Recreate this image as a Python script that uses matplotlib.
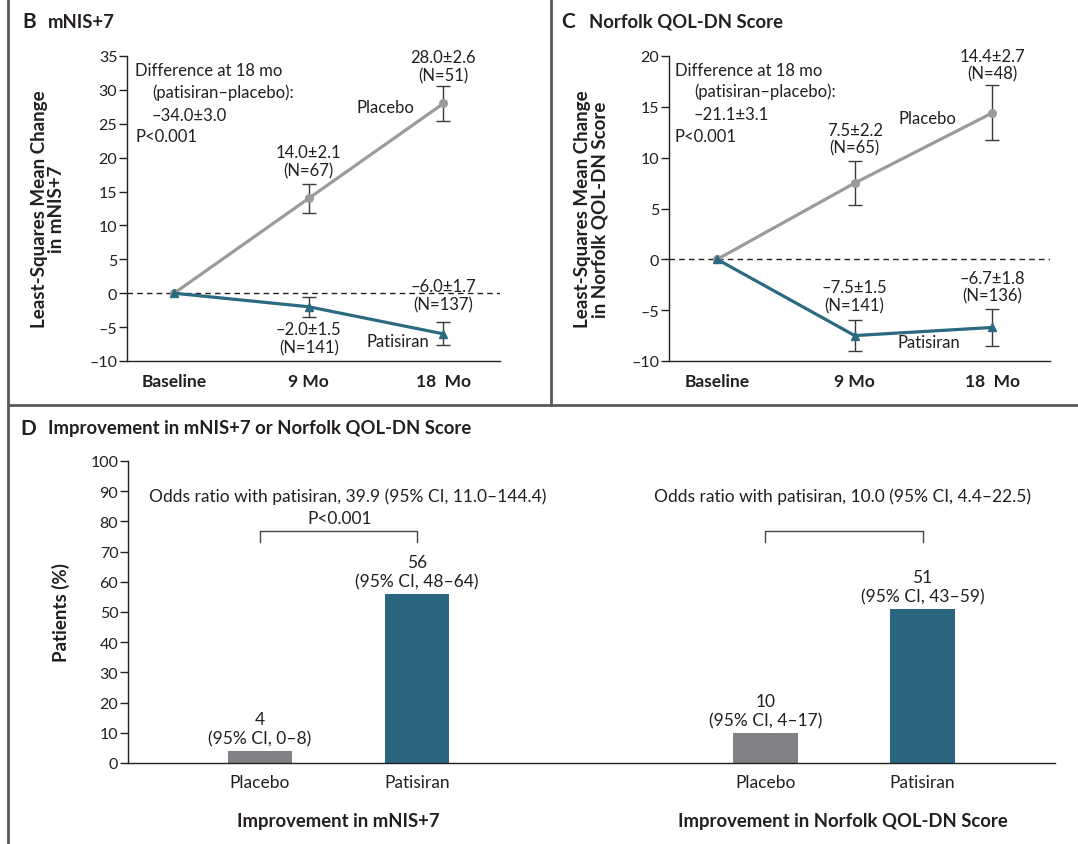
import numpy as np
import matplotlib.pyplot as plt
from matplotlib.lines import Line2D

plt.rcParams['font.family'] = ['Lato', 'DejaVu Sans']
plt.rcParams['font.size'] = 12

# Time points shared by panels B and C
timepoints = ['Baseline', '9 Mo', '18  Mo']

# Panel B: mNIS+7 least-squares mean change
mnis_placebo = [0.0, 14.0, 28.0]
mnis_placebo_se = [0.0, 2.1, 2.6]
mnis_placebo_n = [None, 67, 51]
mnis_patisiran = [0.0, -2.0, -6.0]
mnis_patisiran_se = [0.0, 1.5, 1.7]
mnis_patisiran_n = [None, 141, 137]

# Panel C: Norfolk QOL-DN least-squares mean change
qol_placebo = [0.0, 7.5, 14.4]
qol_placebo_se = [0.0, 2.2, 2.7]
qol_placebo_n = [None, 65, 48]
qol_patisiran = [0.0, -7.5, -6.7]
qol_patisiran_se = [0.0, 1.5, 1.8]
qol_patisiran_n = [None, 141, 136]

# Panel D: percentage of patients with improvement
groups = ['Placebo', 'Patisiran']
improve_mnis = [4, 56]
improve_mnis_ci = ['0–8', '48–64']
improve_qol = [10, 51]
improve_qol_ci = ['4–17', '43–59']

GRAY = '#9b9b9b'
TEAL = '#2b6a80'
BAR_GRAY = '#808184'
BAR_TEAL = '#2a6680'
TXT = '#231f20'
ERR = '#3a3a3a'

W, H = 1078, 845
fig = plt.figure(figsize=(W / 100, H / 100), dpi=100)


def px_axes(left, top, right, bottom):
    return fig.add_axes([left / W, 1 - bottom / H, (right - left) / W, (bottom - top) / H])


def fmt(v):
    return f'{v:.1f}'.replace('-', '–')


def style_axes(ax):
    for s in ['top', 'right']:
        ax.spines[s].set_visible(False)
    for s in ['left', 'bottom']:
        ax.spines[s].set_linewidth(1.0)
        ax.spines[s].set_color(TXT)
    ax.tick_params(axis='y', direction='out', length=6, width=1.0, pad=1,
                   colors=TXT, labelsize=11.5)
    ax.set_yticklabels([f'{int(v)}'.replace('-', '–') for v in ax.get_yticks()])


def line_panel(ax, ylim, yticks, plc, plc_se, pat, pat_se, ylabel, label_x):
    x = np.arange(len(timepoints))
    ax.set_xlim(-0.35, 2.42)
    ax.set_ylim(*ylim)
    ax.set_yticks(yticks)
    ax.axhline(0, color=TXT, lw=1.0, ls=(0, (4, 3)), zorder=1)
    ax.plot(x, plc, color=GRAY, lw=2.3, marker='o', ms=5.5, zorder=3)
    ax.errorbar(x[1:], plc[1:], yerr=plc_se[1:], fmt='none', ecolor=ERR,
                elinewidth=1.0, capsize=5, capthick=1.0, zorder=2)
    ax.plot(x, pat, color=TEAL, lw=2.3, marker='^', ms=6, zorder=4)
    ax.errorbar(x[1:], pat[1:], yerr=pat_se[1:], fmt='none', ecolor=ERR,
                elinewidth=1.0, capsize=5, capthick=1.0, zorder=2)
    ax.set_xticks(x)
    ax.set_xticklabels(timepoints, fontweight='bold', fontsize=12.5, color=TXT)
    ax.tick_params(axis='x', length=0, pad=9)
    style_axes(ax)
    ax.set_ylabel(ylabel, fontweight='bold', fontsize=13.5, color=TXT,
                  linespacing=1.0)
    ax.yaxis.set_label_coords(label_x, 0.5)


def value_label(ax, x, y, mean, se, n):
    ax.text(x, y, f'{fmt(mean)}±{se:.1f}\n(N={n})', ha='center', va='center',
            color=TXT, linespacing=1.15)


# ---------- Panel B ----------
axB = px_axes(127, 57, 500, 362)
line_panel(axB, (-10, 35), np.arange(-10, 36, 5), mnis_placebo, mnis_placebo_se,
           mnis_patisiran, mnis_patisiran_se, 'Least-Squares Mean Change\nin mNIS+7',
           -0.166)
axB.text(-0.29, 32.9, 'Difference at 18 mo', color=TXT, va='center')
axB.text(-0.16, 29.7, '(patisiran–placebo):', color=TXT, va='center')
axB.text(-0.17, 26.3, '–34.0±3.0', color=TXT, va='center')
axB.text(-0.29, 23.2, 'P<0.001', color=TXT, va='center')
value_label(axB, 2, 33.5, mnis_placebo[2], mnis_placebo_se[2], mnis_placebo_n[2])
value_label(axB, 1, 19.5, mnis_placebo[1], mnis_placebo_se[1], mnis_placebo_n[1])
value_label(axB, 2, -0.25, mnis_patisiran[2], mnis_patisiran_se[2], mnis_patisiran_n[2])
value_label(axB, 1, -6.6, mnis_patisiran[1], mnis_patisiran_se[1], mnis_patisiran_n[1])
axB.text(1.57, 27.5, 'Placebo', color=TXT, ha='center', va='center')
axB.text(1.66, -7.0, 'Patisiran', color=TXT, ha='center', va='center')

# ---------- Panel C ----------
axC = px_axes(669, 57, 1050, 362)
line_panel(axC, (-10, 20), np.arange(-10, 21, 5), qol_placebo, qol_placebo_se,
           qol_patisiran, qol_patisiran_se,
           'Least-Squares Mean Change\nin Norfolk QOL-DN Score', -0.16)
axC.text(-0.31, 18.6, 'Difference at 18 mo', color=TXT, va='center')
axC.text(-0.17, 16.6, '(patisiran–placebo):', color=TXT, va='center')
axC.text(-0.17, 14.3, '–21.1±3.1', color=TXT, va='center')
axC.text(-0.31, 12.1, 'P<0.001', color=TXT, va='center')
value_label(axC, 2, 19.15, qol_placebo[2], qol_placebo_se[2], qol_placebo_n[2])
value_label(axC, 1, 11.85, qol_placebo[1], qol_placebo_se[1], qol_placebo_n[1])
value_label(axC, 2, -2.7, qol_patisiran[2], qol_patisiran_se[2], qol_patisiran_n[2])
value_label(axC, 1, -3.65, qol_patisiran[1], qol_patisiran_se[1], qol_patisiran_n[1])
axC.text(1.53, 13.9, 'Placebo', color=TXT, ha='center', va='center')
axC.text(1.54, -8.1, 'Patisiran', color=TXT, ha='center', va='center')

# ---------- Panel D ----------
axD = px_axes(128, 462, 1055, 764)
pos = np.array([0, 1, 3.217, 4.217])
vals = improve_mnis + improve_qol
cis = improve_mnis_ci + improve_qol_ci
colors = [BAR_GRAY, BAR_TEAL, BAR_GRAY, BAR_TEAL]
axD.bar(pos, vals, width=0.41, color=colors, zorder=2)
axD.set_xlim(-0.84, 5.06)
axD.set_ylim(0, 100)
axD.set_yticks(np.arange(0, 101, 10))
style_axes(axD)
axD.set_xticks(pos)
axD.set_xticklabels(groups + groups, color=TXT, fontsize=12.5)
axD.tick_params(axis='x', length=0, pad=8)
axD.set_ylabel('Patients (%)', fontweight='bold', fontsize=13.5, color=TXT)
axD.yaxis.set_label_coords(-0.063, 0.5)
for p, v, ci in zip(pos, vals, cis):
    axD.text(p, v + 1.6, f'{v}\n(95% CI, {ci})', ha='center', va='bottom',
             color=TXT, linespacing=1.2, fontsize=12.5)

# odds ratio annotations with brackets
odds_notes = [((pos[0], pos[1]), 0.56, 'Odds ratio with patisiran, 39.9 (95% CI, 11.0–144.4)', 'P<0.001'),
              ((pos[2], pos[3]), 3.71, 'Odds ratio with patisiran, 10.0 (95% CI, 4.4–22.5)', None)]
for (a, b), tx, txt, pval in odds_notes:
    axD.plot([a, a, b, b], [73.3, 76.9, 76.9, 73.3], color='#444444', lw=1.0)
    axD.text(tx, 88.4, txt, ha='center', va='center', color=TXT, fontsize=12.5)
    if pval:
        axD.text(0.51, 81.0, pval, ha='center', va='center', color=TXT, fontsize=12.5)

axD.text(0.5, -19.0, 'Improvement in mNIS+7', ha='center', va='center',
         fontweight='bold', fontsize=13.3, color=TXT)
axD.text(3.71, -19.0, 'Improvement in Norfolk QOL-DN Score', ha='center',
         va='center', fontweight='bold', fontsize=13.3, color=TXT)

# ---------- Panel headings ----------
fig.text(22 / W, 1 - 22 / H, 'B', fontweight='bold', fontsize=15, va='center', color=TXT)
fig.text(48 / W, 1 - 22 / H, 'mNIS+7', fontweight='bold', fontsize=13.3, va='center', color=TXT)
fig.text(561 / W, 1 - 22 / H, 'C', fontweight='bold', fontsize=15, va='center', color=TXT)
fig.text(589 / W, 1 - 22 / H, 'Norfolk QOL-DN Score', fontweight='bold', fontsize=13.3,
         va='center', color=TXT)
fig.text(20 / W, 1 - 429 / H, 'D', fontweight='bold', fontsize=15, va='center', color=TXT)
fig.text(48 / W, 1 - 429 / H, 'Improvement in mNIS+7 or Norfolk QOL-DN Score',
         fontweight='bold', fontsize=13.3, va='center', color=TXT)

# ---------- Panel frame lines ----------
frame = dict(color='#5a5a5a', lw=2.0, transform=fig.transFigure)
fig.add_artist(Line2D([8 / W, 8 / W], [0, 1], **frame))
fig.add_artist(Line2D([551 / W, 551 / W], [1 - 406 / H, 1], **frame))
fig.add_artist(Line2D([8 / W, 1], [1 - 406 / H, 1 - 406 / H], **frame))

fig.savefig('out.png', dpi=100, facecolor='white')
